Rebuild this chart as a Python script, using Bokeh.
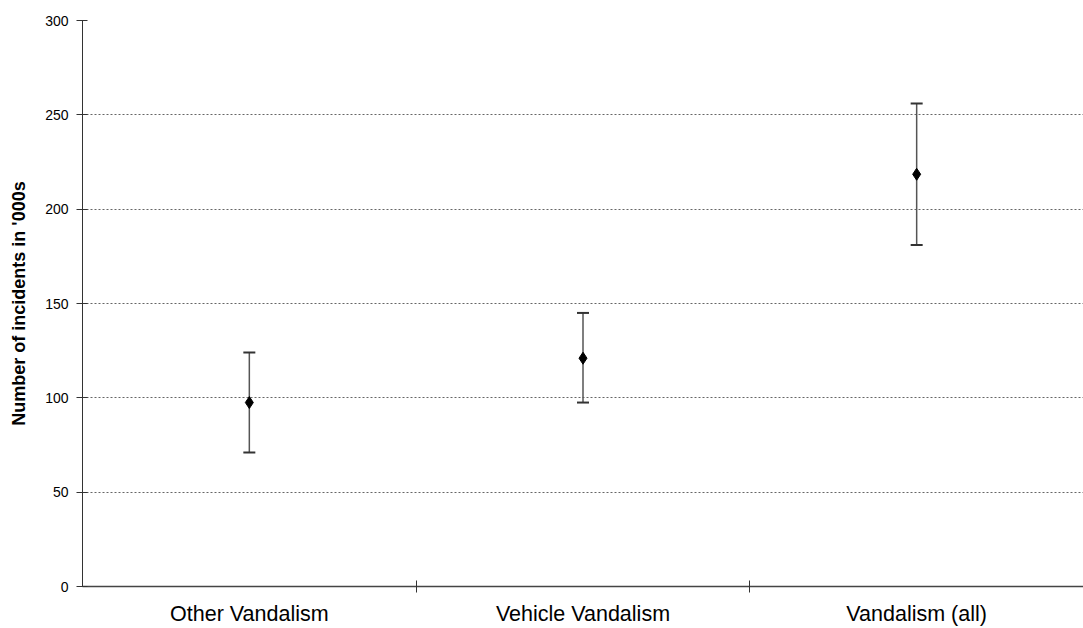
from bokeh.plotting import figure
from bokeh.models import ColumnDataSource, Whisker, TeeHead, FixedTicker, Range1d
from bokeh.embed import file_html
from bokeh.resources import INLINE

categories = ["Other Vandalism", "Vehicle Vandalism", "Vandalism (all)"]
estimates = [97.5, 121.0, 218.5]
lower = [71.0, 97.5, 181.0]
upper = [124.0, 145.0, 256.0]
y_ticks = [0, 50, 100, 150, 200, 250, 300]

centers = [i + 0.5 for i in range(len(categories))]
boundaries = [i for i in range(1, len(categories))]

src = ColumnDataSource(dict(x=centers, y=estimates, lower=lower, upper=upper))

p = figure(width=1083, height=628, output_backend="svg", toolbar_location=None,
           x_range=Range1d(0, len(categories)), y_range=Range1d(0, 300),
           min_border_left=82, min_border_top=20, min_border_bottom=39, min_border_right=0)
p.outline_line_color = None
p.background_fill_color = "white"
p.border_fill_color = "white"

whisker = Whisker(source=src, base="x", lower="lower", upper="upper",
                  line_color="#555555", line_width=1.5,
                  upper_head=TeeHead(size=12, line_color="#333333", line_width=2),
                  lower_head=TeeHead(size=12, line_color="#333333", line_width=2))
p.add_layout(whisker)
p.scatter("x", "y", source=src, marker="diamond", size=12, color="black")

# x axis
p.xaxis.ticker = FixedTicker(ticks=centers, minor_ticks=boundaries)
p.xaxis.major_label_overrides = {c: name for c, name in zip(centers, categories)}
p.xaxis.major_tick_in = 0
p.xaxis.major_tick_out = 0
p.xaxis.minor_tick_in = 6
p.xaxis.minor_tick_out = 6
p.xaxis.minor_tick_line_color = "#333333"
p.xaxis.axis_line_color = "#444444"
p.xaxis.axis_line_width = 1.5
p.xaxis.major_label_text_font = "Liberation Sans"
p.xaxis.major_label_text_font_size = "21.5px"
p.xaxis.major_label_text_color = "black"
p.xaxis.major_label_standoff = 9

# y axis
p.yaxis.ticker = FixedTicker(ticks=y_ticks)
p.yaxis.major_tick_in = 5
p.yaxis.major_tick_out = 6
p.yaxis.minor_tick_line_color = None
p.yaxis.axis_line_color = "#333333"
p.yaxis.major_tick_line_color = "#333333"
p.yaxis.major_label_text_font = "Liberation Sans"
p.yaxis.major_label_text_font_size = "14px"
p.yaxis.major_label_text_color = "black"
p.yaxis.major_label_standoff = 8
p.yaxis.axis_label = "Number of incidents in '000s"
p.yaxis.axis_label_text_font = "Liberation Sans"
p.yaxis.axis_label_text_font_style = "bold"
p.yaxis.axis_label_text_font_size = "18px"
p.yaxis.axis_label_text_color = "black"
p.yaxis.axis_label_standoff = 13

p.xgrid.visible = False
p.ygrid.grid_line_color = "#666666"
p.ygrid.grid_line_dash = "2 2"
p.ygrid.grid_line_width = 1

open("out.html", "w").write(file_html(p, INLINE))
